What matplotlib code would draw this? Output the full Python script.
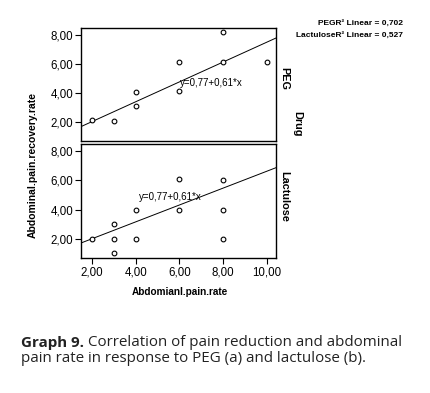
import numpy as np
import matplotlib
matplotlib.use("Agg")
import matplotlib.pyplot as plt
from matplotlib import font_manager

# ---- data ----
peg_x = [2, 3, 4, 4, 6, 6, 8, 8, 10]
peg_y = [2.1, 2.05, 4.05, 3.1, 6.1, 4.1, 8.15, 6.1, 6.1]
lac_x = [2, 3, 3, 3, 4, 4, 6, 6, 8, 8, 8]
lac_y = [2.0, 3.0, 2.0, 1.05, 4.0, 2.0, 6.1, 4.0, 6.05, 4.0, 2.0]
# fitted line (intercept, slope) as drawn in the chart
fit_intercept = [0.645, 0.84]
fit_slope = [0.683, 0.578]
panel_names = ["PEG", "Lactulose"]
fit_labels = ["y=0,77+0,61*x", "y=0,77+0,61*x"]
r2_labels = ["PEGR\u00b2 Linear = 0,702", "LactuloseR\u00b2 Linear = 0,527"]
x_ticks = [2, 4, 6, 8, 10]
y_ticks = [2, 4, 6, 8]

def fmt(v):
    return f"{v:.2f}".replace(".", ",")

names = {f.name for f in font_manager.fontManager.ttflist}
narrow = "Liberation Sans Narrow" if "Liberation Sans Narrow" in names else "Liberation Sans"

W, H = 430, 393
fig = plt.figure(figsize=(W / 100, H / 100), dpi=100)

def ax_rect(l, t, r, b):
    return [l / W, 1 - b / H, (r - l) / W, (b - t) / H]

ax_top = fig.add_axes(ax_rect(81, 28, 276, 141))
ax_bot = fig.add_axes(ax_rect(81, 144.5, 276, 258))

xlim = (1.5, 10.42)
ylim = (0.68, 8.45)
label_pos = [(6.05, 4.65), (4.15, 4.88)]

for ax, xs, ys, lab, lp, a, b in zip([ax_top, ax_bot], [peg_x, lac_x], [peg_y, lac_y],
                                     fit_labels, label_pos, fit_intercept, fit_slope):
    ax.set_xlim(*xlim)
    ax.set_ylim(*ylim)
    xx = np.array(xlim)
    ax.plot(xx, a + b * xx, color="black", lw=0.7)
    ax.plot(xs, ys, "o", mfc="white", mec="black", ms=3.4, mew=0.8, zorder=3)
    ax.text(lp[0], lp[1], lab, fontsize=7, family=narrow, va="center", ha="left")
    ax.set_yticks(y_ticks)
    ax.set_yticklabels([fmt(v) for v in y_ticks], family=narrow, fontsize=8.3)
    ax.tick_params(axis="y", direction="out", length=4, width=0.8, pad=1.5)
    for s in ax.spines.values():
        s.set_linewidth(1.0)

ax_top.set_xticks([])
ax_bot.set_xticks(x_ticks)
ax_bot.set_xticklabels([fmt(v) for v in x_ticks], family=narrow, fontsize=8.3)
ax_bot.tick_params(axis="x", direction="out", length=4, width=0.8, pad=2)

# strip labels
fig.text(284 / W, 1 - 78 / H, panel_names[0], rotation=-90, fontsize=7.8,
         fontweight="bold", family=narrow, ha="center", va="center")
fig.text(284 / W, 1 - 196 / H, panel_names[1], rotation=-90, fontsize=7.8,
         fontweight="bold", family=narrow, ha="center", va="center")
fig.text(297 / W, 1 - 124 / H, "Drug", rotation=-90, fontsize=7.8,
         fontweight="bold", family=narrow, ha="center", va="center")

# axis labels
fig.text(33 / W, 1 - 165 / H, "Abdominal.pain.recovery.rate", rotation=90,
         fontsize=7.5, fontweight="bold", family=narrow, ha="center", va="center")
fig.text(180 / W, 1 - 292 / H, "Abdomianl.pain.rate", fontsize=7.2,
         fontweight="bold", family=narrow, ha="center", va="center")

# R2 legend
fig.text(403 / W, 1 - 23 / H, r2_labels[0], fontsize=6.0, fontweight="bold",
         family=narrow, ha="right", va="center")
fig.text(403 / W, 1 - 35 / H, r2_labels[1], fontsize=6.0, fontweight="bold",
         family=narrow, ha="right", va="center")

# caption
cap_font = "Open Sans"
cap_size = 10.9
t1 = fig.text(21 / W, 1 - 343 / H, "Graph 9.", fontsize=cap_size, fontweight="bold",
              family=cap_font, ha="left", va="center", color="#222222")
fig.canvas.draw()
bb = t1.get_window_extent()
fig.text((bb.x1 + 4) / W, 1 - 343 / H,
         "Correlation of pain reduction and abdominal", fontsize=cap_size,
         family=cap_font, ha="left", va="center", color="#222222")
fig.text(21 / W, 1 - 358 / H,
         "pain rate in response to PEG (a) and lactulose (b).", fontsize=cap_size,
         family=cap_font, ha="left", va="center", color="#222222")

fig.savefig("out.png", dpi=100)
